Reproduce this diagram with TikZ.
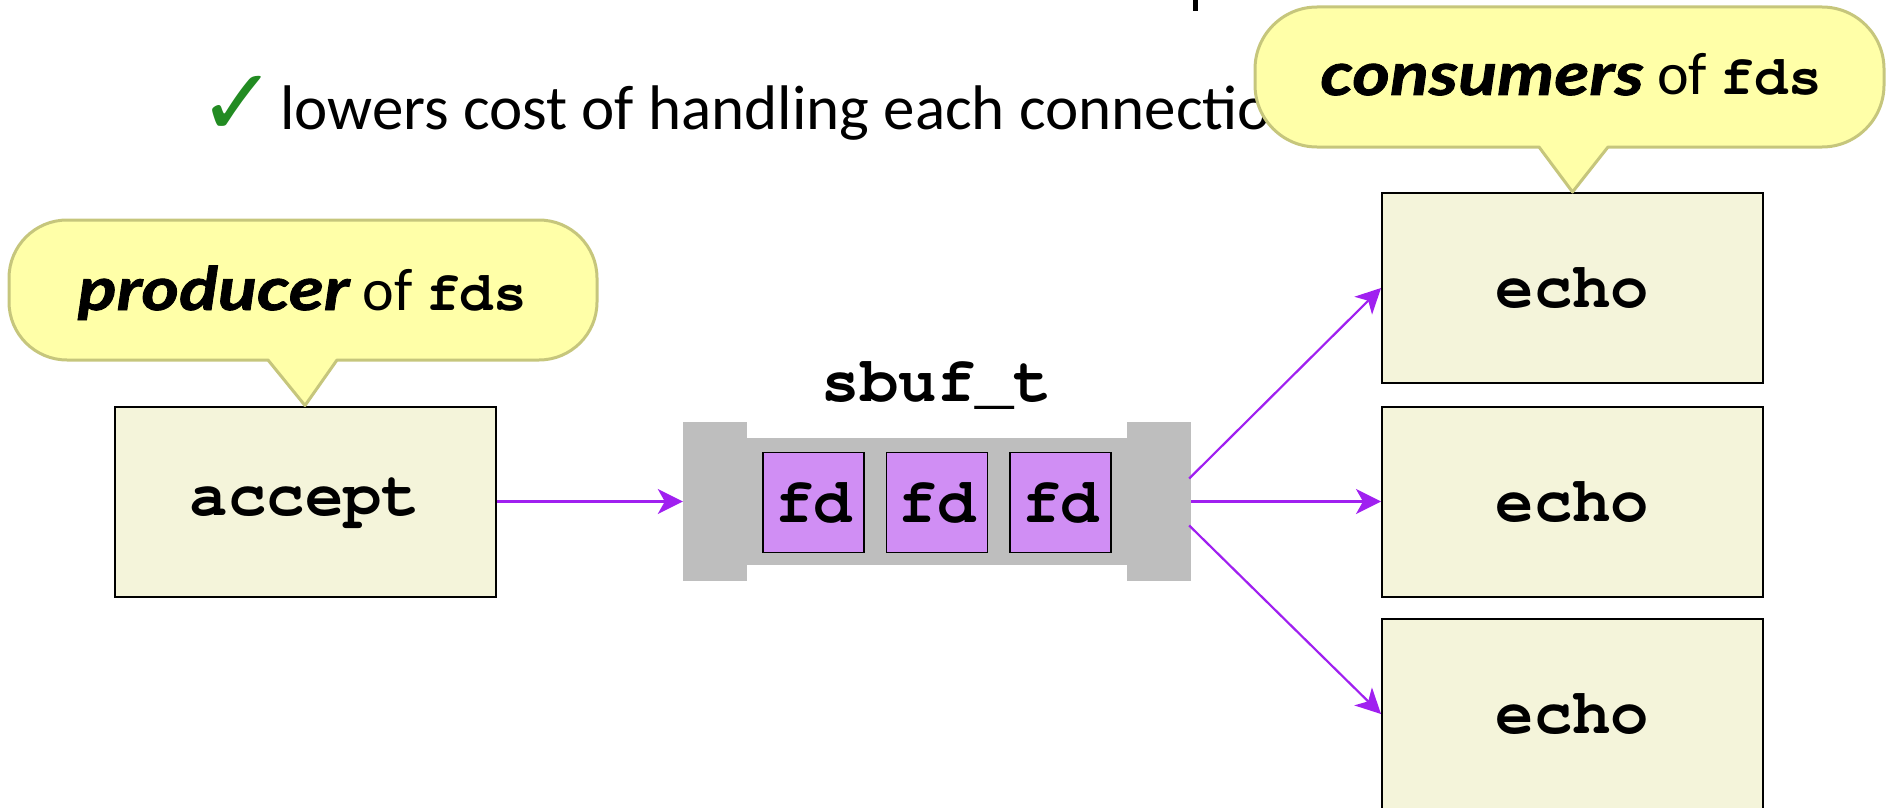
\documentclass[tikz,border=0pt]{standalone}
\usepackage[T1]{fontenc}
\usepackage{fontspec}
\setmainfont{Carlito}
\newfontfamily\symfont{DejaVu Sans}
\newfontfamily\heavyfont{Lato}[FakeStretch=1.2, FakeBold=1.4]
\usetikzlibrary{arrows.meta,calc}

% Courier (URW) for code words
\newcommand\courb{\fontencoding{T1}\fontfamily{pcr}\fontseries{b}\fontshape{n}\selectfont}

\definecolor{boxfill}{RGB}{244,244,218}
\definecolor{calloutfill}{RGB}{255,255,168}
\definecolor{calloutline}{RGB}{198,198,124}
\definecolor{bufgray}{RGB}{190,190,190}
\definecolor{fdfill}{RGB}{208,142,244}
\definecolor{flowpurple}{RGB}{160,32,240}
\definecolor{checkgreen}{RGB}{34,139,34}

\tikzset{
  procbox/.style={draw=black, line width=2pt, fill=boxfill, inner sep=0pt,
    minimum width=381pt, minimum height=190pt,
    font=\courb\fontsize{64}{70}\selectfont},
  fdbox/.style={draw=black, line width=1.6pt, fill=fdfill, inner sep=0pt,
    minimum width=101pt, minimum height=100pt,
    font=\courb\fontsize{64}{70}\selectfont},
  callout/.style={fill=calloutfill, draw=calloutline, line width=3pt, line join=round},
  callouttext/.style={anchor=base, inner sep=0pt, font=\fontsize{60}{66}\selectfont},
  flow/.style={draw=flowpurple, line width=2.2pt,
    -{Stealth[length=25pt, width=25pt, inset=7pt]}},
}
\newcommand\heavyword[1]{{\heavyfont\bfseries\itshape #1}}
\newcommand\codeword[1]{{\courb\fontsize{56}{62}\selectfont #1}}

\begin{document}
\begin{tikzpicture}[x=1pt, y=-1pt]
\useasboundingbox (0,0) rectangle (1892,808);

% line of text at the top (with a stroke of the line above it)
\fill (1193,0) rectangle (1198,11);
\node[anchor=base west, inner sep=0pt, text=checkgreen, font=\symfont\fontsize{94}{100}\selectfont] (check) at (198,135) {✓};
\node[anchor=base west, inner sep=0pt, font=\fontsize{63}{70}\selectfont] (point) at (280,129) {lowers cost of handling each connection};

% producer and consumers
\node[procbox] (accept) at (305,501.5) {accept};
\node[procbox] (echo1) at (1572.5,288) {echo};
\node[procbox] (echo2) at (1572.5,501.5) {echo};
\node[procbox] (echo3) at (1572.5,714) {echo};

% shared buffer
\node[inner sep=0pt, minimum width=508pt, minimum height=159pt] (buf) at (937,501.5) {};
\fill[bufgray] (buf.north west) rectangle ($(buf.south west)+(64,0)$);
\fill[bufgray] ($(buf.north west)+(64,16)$) rectangle ($(buf.south east)+(-64,-16)$);
\fill[bufgray] ($(buf.north east)+(-64,0)$) rectangle (buf.south east);
\node[fdbox] (fd2) at ($(buf.center)+(0,1)$) {fd};
\node[fdbox] (fd1) at ($(fd2)+(-123.5,0)$) {fd};
\node[fdbox] (fd3) at ($(fd2)+(123.5,0)$) {fd};
\node[anchor=base, inner sep=0pt, font=\courb\fontsize{64}{70}\selectfont] (buflabel) at ($(buf.north)+(0,-20)$) {sbuf\_t};

% connectors
\draw[flow] (accept) -- (buf);
\draw[flow] ($(buf.east)+(-2,-23)$) -- (echo1.west);
\draw[flow] (buf.east) -- (echo2.west);
\draw[flow] ($(buf.east)+(-2,24)$) -- (echo3.west);

% callouts
\path[callout] (accept.north) -- (337,360) -- (450,360) [rounded corners=58pt]
  -- (597,360) -- (597,220) -- (9,220) -- (9,360) -- (150,360) [sharp corners]
  -- (268,360) -- cycle;
\node[callouttext] (prodlabel) at (302.5,310)
  {\heavyword{producer} of \codeword{fds}};

\path[callout] (echo1.north) -- (1608,147) -- (1700,147) [rounded corners=62pt]
  -- (1884,147) -- (1884,7) -- (1255,7) -- (1255,147) -- (1400,147) [sharp corners]
  -- (1539,147) -- cycle;
\node[callouttext] (conslabel) at (1571,95)
  {\heavyword{consumers} of \codeword{fds}};
\end{tikzpicture}
\end{document}
